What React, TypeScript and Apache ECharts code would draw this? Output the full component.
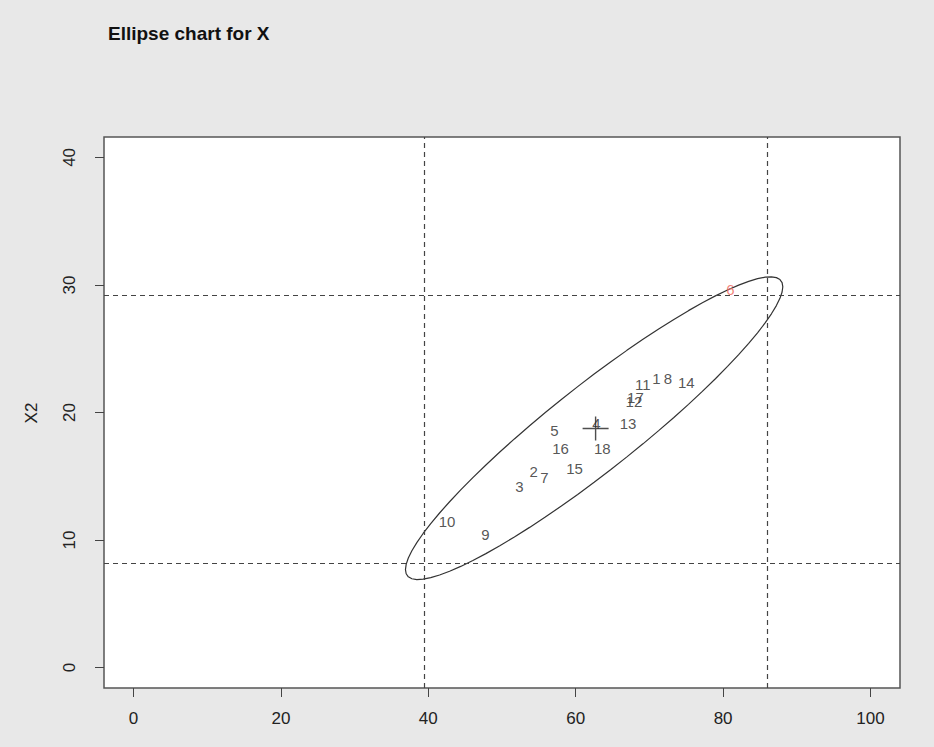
import React, { useEffect, useRef } from "react";
import * as echarts from "echarts";

// ---- data ----
const pointIds = ["1", "2", "3", "4", "5", "6", "7", "8", "9", "10", "11", "12", "13", "14", "15", "16", "17", "18"];
const x1Values = [70.96, 54.3, 52.37, 62.82, 57.12, 81.0, 55.77, 72.5, 47.76, 42.55, 69.1, 67.9, 67.1, 75.0, 59.84, 57.94, 68.1, 63.6];
const x2Values = [22.7, 15.37, 14.17, 19.14, 18.59, 29.65, 14.87, 22.67, 10.43, 11.43, 22.2, 20.83, 19.11, 22.33, 15.63, 17.15, 21.15, 17.18];
const outOfControlIds = ["6"];
const centerPoint = [62.7, 18.75];
const x1Limits = [39.5, 86.0];
const x2Limits = [8.16, 29.2];
const xTicks = [0, 20, 40, 60, 80, 100];
const yTicks = [0, 10, 20, 30, 40];
// control ellipse: centre, spreads and correlation (data units)
const ellipseCenter = [62.5, 18.77];
const ellipseSpreadX = 25.6;
const ellipseSpreadY = 11.87;
const ellipseCorr = 0.934;
const ellipseSteps = 72;

const FONT = "'Liberation Sans', Arial, Helvetica, sans-serif";

function ellipsePoints(): number[][] {
  const pts: number[][] = [];
  const s = Math.sqrt(1 - ellipseCorr * ellipseCorr);
  for (let i = 0; i <= ellipseSteps; i++) {
    const t = (i / ellipseSteps) * Math.PI * 2;
    const c = Math.cos(t);
    const sn = Math.sin(t);
    pts.push([
      ellipseCenter[0] + ellipseSpreadX * c,
      ellipseCenter[1] + ellipseSpreadY * (ellipseCorr * c + s * sn),
    ]);
  }
  return pts;
}

export default function App() {
  const ref = useRef<HTMLDivElement>(null);

  useEffect(() => {
    if (!ref.current) return;
    const chart = echarts.init(ref.current, undefined, { renderer: "svg" });

    const pointData = pointIds.map((id, i) => ({
      name: id,
      value: [x1Values[i], x2Values[i]],
      label: {
        color: outOfControlIds.includes(id) ? "#f0645a" : "#2a2a2a",
      },
    }));

    const option: any = {
      animation: false,
      backgroundColor: "#e8e8e8",
      title: {
        text: "Ellipse chart for X",
        left: 103,
        top: 19,
        textStyle: {
          fontSize: 19,
          fontWeight: "bold",
          color: "#111",
          fontFamily: FONT,
        },
      },
      grid: {
        show: true,
        left: 104,
        top: 137,
        right: 34,
        bottom: 59,
        backgroundColor: "#ffffff",
        borderColor: "#555",
        borderWidth: 1.5,
      },
      xAxis: {
        type: "value",
        min: -4,
        max: 104,
        axisLine: { show: false, onZero: false },
        splitLine: { show: false },
        axisTick: {
          show: true,
          inside: false,
          length: 9,
          customValues: xTicks,
          lineStyle: { color: "#444", width: 1 },
        },
        axisLabel: {
          customValues: xTicks,
          fontSize: 17,
          color: "#222",
          fontFamily: FONT,
          margin: 22,
        },
      },
      yAxis: {
        type: "value",
        min: -1.6,
        max: 41.6,
        axisLine: { show: false, onZero: false },
        splitLine: { show: false },
        axisTick: {
          show: true,
          inside: false,
          length: 9,
          customValues: yTicks,
          lineStyle: { color: "#444", width: 1 },
        },
        axisLabel: {
          customValues: yTicks,
          rotate: 90,
          fontSize: 17,
          color: "#222",
          fontFamily: FONT,
          margin: 26,
        },
      },
      graphic: [
        {
          type: "text",
          x: 31,
          y: 413,
          rotation: Math.PI / 2,
          style: {
            text: "X2",
            fontSize: 17,
            fill: "#222",
            fontFamily: FONT,
            align: "center",
            verticalAlign: "middle",
          },
        },
      ],
      series: [
        {
          name: "limits",
          type: "line",
          data: [],
          silent: true,
          markLine: {
            silent: true,
            symbol: ["none", "none"],
            label: { show: false },
            lineStyle: { color: "#444", width: 1.2, type: [5, 4] },
            data: [
              ...x1Limits.map((v) => ({ xAxis: v })),
              ...x2Limits.map((v) => ({ yAxis: v })),
            ],
          },
        },
        {
          name: "ellipse",
          type: "line",
          data: ellipsePoints(),
          symbol: "none",
          silent: true,
          lineStyle: { color: "#333", width: 1.2 },
        },
        {
          name: "center",
          type: "scatter",
          data: [centerPoint],
          symbol: "path://M0,47.1H100V52.9H0Z M47.3,0H52.7V100H47.3Z",
          symbolSize: [26, 24],
          itemStyle: { color: "#222" },
          silent: true,
        },
        {
          name: "points",
          type: "scatter",
          data: pointData,
          symbol: "circle",
          symbolSize: 1,
          itemStyle: { color: "rgba(0,0,0,0)" },
          label: {
            show: true,
            position: "inside",
            formatter: "{b}",
            fontSize: 15,
            fontFamily: FONT,
          },
          labelLayout: { hideOverlap: false },
          z: 5,
        },
      ],
    };

    chart.setOption(option);
    return () => chart.dispose();
  }, []);

  return (
    <div
      ref={ref}
      style={{ position: "fixed", left: 0, top: 0, width: 934, height: 747 }}
    />
  );
}
